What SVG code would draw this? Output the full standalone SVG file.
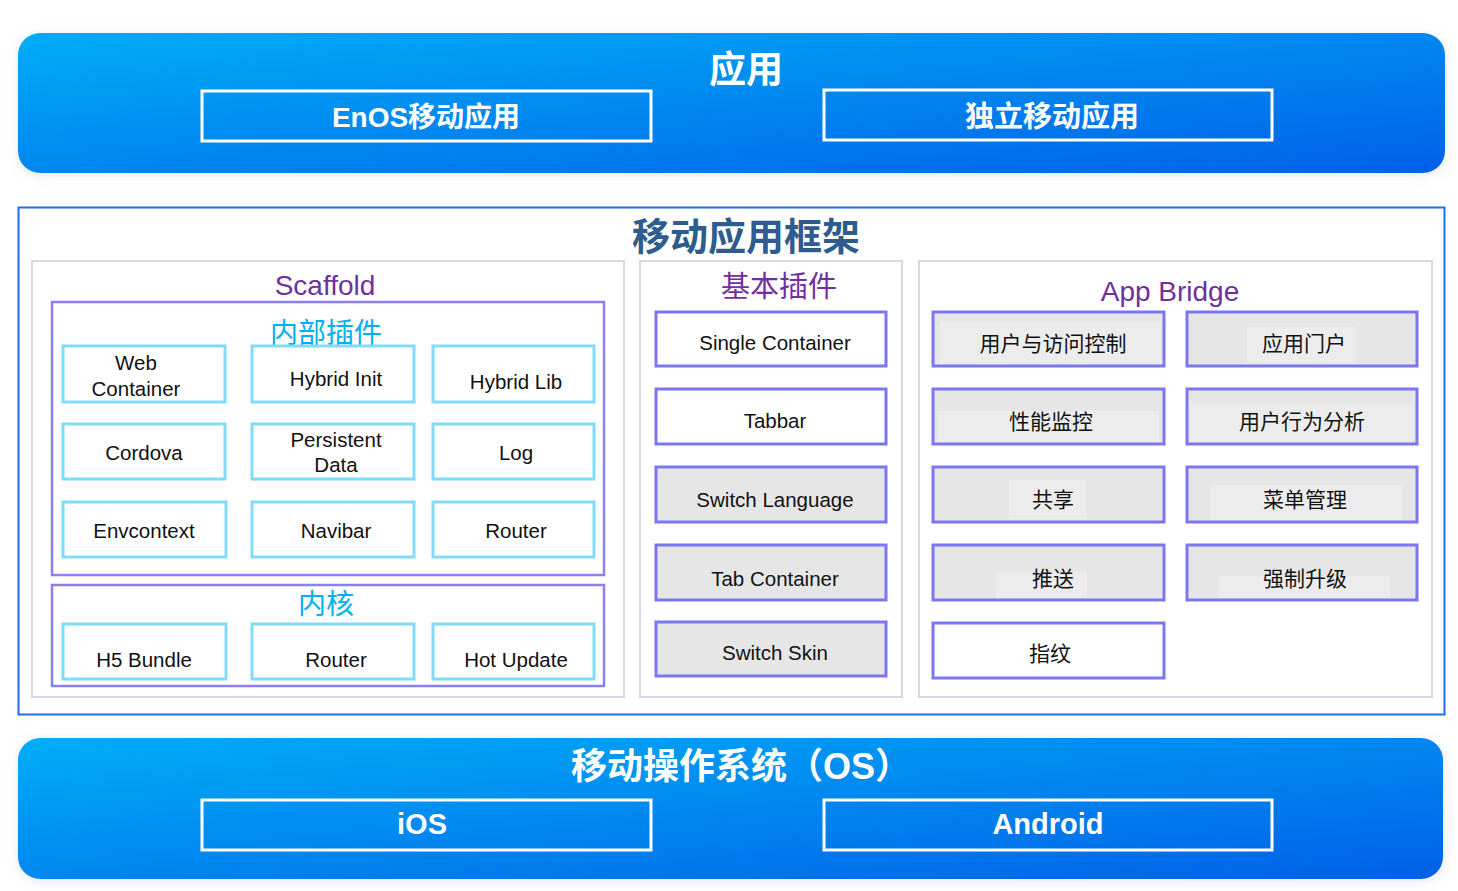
<svg xmlns="http://www.w3.org/2000/svg" width="1458" height="891" viewBox="0 0 1458 891">
<defs>
<linearGradient id="band" x1="0" y1="0" x2="1" y2="1" gradientUnits="objectBoundingBox">
<stop offset="0" stop-color="#00aef7"/>
<stop offset="1" stop-color="#0060e8"/>
</linearGradient>
<filter id="sh" x="-5%" y="-30%" width="110%" height="160%">
<feDropShadow dx="0" dy="2" stdDeviation="6" flood-color="#8a9bc4" flood-opacity="0.25"/>
</filter>
<style>
.band{fill:url(#band);filter:url(#sh)}
.wbox{fill:none;stroke:#ffffff;stroke-width:3}
.wt{font-family:"Liberation Sans","Noto Sans CJK SC",sans-serif;font-weight:bold;fill:#ffffff;text-anchor:middle}
.panel{fill:#ffffff;stroke:#d8d9e8;stroke-width:2}
.grp{fill:none;stroke:#8a80f0;stroke-width:2.5}
.cy{fill:#ffffff;stroke:#80dcf8;stroke-width:3}
.pu{fill:#ffffff;stroke:#7b77f2;stroke-width:3}
.pg{fill:#e6e6e6;stroke:#7b77f2;stroke-width:3}
.in{fill:#ececec}
.t{font-family:"Liberation Sans","Noto Sans CJK SC",sans-serif;font-size:20.5px;fill:#111111;text-anchor:middle}
.tc{font-family:"Noto Sans CJK SC","Liberation Sans",sans-serif;font-size:21px;fill:#111111;text-anchor:middle}
.hp{font-family:"Liberation Sans","Noto Sans CJK SC",sans-serif;font-size:28px;fill:#7030a0;text-anchor:middle}
.hc{font-family:"Noto Sans CJK SC","Liberation Sans",sans-serif;font-size:28px;fill:#00b0f0;text-anchor:middle}
</style>
</defs>
<rect width="1458" height="891" fill="#ffffff"/>

<g id="app-layer">
<rect class="band" x="18" y="33" width="1427" height="140" rx="22"/>
<text class="wt" x="746" y="83" font-size="37">应用</text>
</g>
<g id="enos-app">
<rect class="wbox" x="202" y="91" width="449" height="50"/>
<text class="wt" x="426" y="127" font-size="28">EnOS移动应用</text>
</g>
<g id="standalone-app">
<rect class="wbox" x="824" y="90" width="448" height="50"/>
<text class="wt" x="1052" y="127" font-size="29">独立移动应用</text>
</g>

<g id="framework">
<rect x="18.5" y="207.5" width="1426" height="507" fill="#ffffff" stroke="#1f6ff0" stroke-width="2"/>
<text x="746" y="250" font-family="Noto Sans CJK SC, Liberation Sans, sans-serif" font-size="38" font-weight="bold" fill="#2e5c8e" text-anchor="middle">移动应用框架</text>
</g>

<g id="scaffold">
<rect class="panel" x="32" y="261" width="592" height="436"/>
<text class="hp" x="325" y="295">Scaffold</text>
</g>
<g id="internal-plugins">
<rect class="grp" x="52" y="302" width="552" height="273"/>
<text class="hc" x="326" y="343">内部插件</text>
</g>
<g id="web-container"><rect class="cy" x="63" y="346" width="162" height="56"/><text class="t" x="136" y="370">Web</text><text class="t" x="136" y="396">Container</text></g>
<g id="hybrid-init"><rect class="cy" x="252" y="346" width="162" height="56"/><text class="t" x="336" y="386">Hybrid Init</text></g>
<g id="hybrid-lib"><rect class="cy" x="433" y="346" width="161" height="56"/><text class="t" x="516" y="389">Hybrid Lib</text></g>
<g id="cordova"><rect class="cy" x="63" y="424" width="162" height="55"/><text class="t" x="144" y="460">Cordova</text></g>
<g id="persistent-data"><rect class="cy" x="252" y="424" width="162" height="55"/><text class="t" x="336" y="447">Persistent</text><text class="t" x="336" y="472">Data</text></g>
<g id="log"><rect class="cy" x="433" y="424" width="161" height="55"/><text class="t" x="516" y="460">Log</text></g>
<g id="envcontext"><rect class="cy" x="63" y="502" width="163" height="55"/><text class="t" x="144" y="538">Envcontext</text></g>
<g id="navibar"><rect class="cy" x="252" y="502" width="162" height="55"/><text class="t" x="336" y="538">Navibar</text></g>
<g id="router-1"><rect class="cy" x="433" y="502" width="161" height="55"/><text class="t" x="516" y="538">Router</text></g>

<g id="kernel">
<rect class="grp" x="52" y="585" width="552" height="101"/>
<text class="hc" x="326" y="614">内核</text>
</g>
<g id="h5-bundle"><rect class="cy" x="63" y="624" width="163" height="55"/><text class="t" x="144" y="667">H5 Bundle</text></g>
<g id="router-2"><rect class="cy" x="252" y="624" width="162" height="55"/><text class="t" x="336" y="667">Router</text></g>
<g id="hot-update"><rect class="cy" x="433" y="624" width="161" height="55"/><text class="t" x="516" y="667">Hot Update</text></g>

<g id="basic-plugins">
<rect class="panel" x="640" y="261" width="262" height="436"/>
<text x="779" y="297" font-family="Noto Sans CJK SC, Liberation Sans, sans-serif" font-size="29" fill="#7030a0" text-anchor="middle">基本插件</text>
</g>
<g id="single-container"><rect class="pu" x="656" y="312" width="230" height="54"/><text class="t" x="775" y="350">Single Container</text></g>
<g id="tabbar"><rect class="pu" x="656" y="389" width="230" height="55"/><text class="t" x="775" y="428">Tabbar</text></g>
<g id="switch-language"><rect class="pg" x="656" y="467" width="230" height="55"/><text class="t" x="775" y="507">Switch Language</text></g>
<g id="tab-container"><rect class="pg" x="656" y="545" width="230" height="55"/><text class="t" x="775" y="586">Tab Container</text></g>
<g id="switch-skin"><rect class="pg" x="656" y="622" width="230" height="54"/><text class="t" x="775" y="660">Switch Skin</text></g>

<g id="app-bridge">
<rect class="panel" x="919" y="261" width="513" height="436"/>
<text class="hp" x="1170" y="301">App Bridge</text>
</g>
<g id="access-control"><rect class="pg" x="933" y="312" width="231" height="54"/><rect class="in" x="940" y="322" width="221" height="42"/><text class="tc" x="1053" y="351">用户与访问控制</text></g>
<g id="app-portal"><rect class="pg" x="1187" y="312" width="230" height="54"/><rect class="in" x="1247" y="327" width="109" height="36"/><text class="tc" x="1304" y="351">应用门户</text></g>
<g id="perf-monitor"><rect class="pg" x="933" y="389" width="231" height="55"/><rect class="in" x="938" y="411" width="221" height="31"/><text class="tc" x="1051" y="429">性能监控</text></g>
<g id="behavior-analysis"><rect class="pg" x="1187" y="389" width="230" height="55"/><rect class="in" x="1190" y="404" width="223" height="38"/><text class="tc" x="1302" y="429">用户行为分析</text></g>
<g id="share"><rect class="pg" x="933" y="467" width="231" height="55"/><rect class="in" x="1009" y="480" width="77" height="39"/><text class="tc" x="1053" y="507">共享</text></g>
<g id="menu-management"><rect class="pg" x="1187" y="467" width="230" height="55"/><rect class="in" x="1210" y="485" width="192" height="35"/><text class="tc" x="1305" y="507">菜单管理</text></g>
<g id="push"><rect class="pg" x="933" y="545" width="231" height="55"/><rect class="in" x="996" y="572" width="91" height="26"/><text class="tc" x="1053" y="586">推送</text></g>
<g id="force-upgrade"><rect class="pg" x="1187" y="545" width="230" height="55"/><rect class="in" x="1219" y="576" width="171" height="22"/><text class="tc" x="1305" y="586">强制升级</text></g>
<g id="fingerprint"><rect class="pu" x="933" y="623" width="231" height="55"/><text class="tc" x="1050" y="661">指纹</text></g>

<g id="os-layer">
<rect class="band" x="18" y="738" width="1425" height="141" rx="22"/>
<text class="wt" x="741" y="779" font-size="36">移动操作系统（OS）</text>
</g>
<g id="ios">
<rect class="wbox" x="202" y="800" width="449" height="50"/>
<text class="wt" x="422" y="834" font-size="29">iOS</text>
</g>
<g id="android">
<rect class="wbox" x="824" y="800" width="448" height="50"/>
<text class="wt" x="1048" y="834" font-size="29">Android</text>
</g>

<g id="connectors"></g>
</svg>
